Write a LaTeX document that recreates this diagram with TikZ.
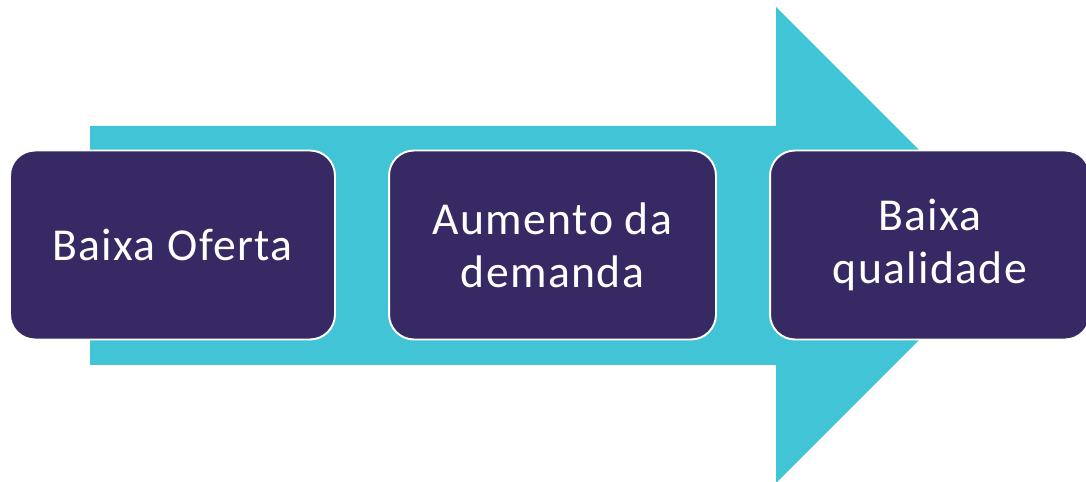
\documentclass[tikz,border=0pt]{standalone}
\usepackage{fontspec}
\setmainfont{Carlito}[LetterSpace=3]
\definecolor{teal}{HTML}{42C4D7}
\definecolor{plum}{HTML}{372963}
\begin{document}
\begin{tikzpicture}[x=0.02cm,y=-0.02cm,
  stepbox/.style={draw=white, line width=1.1pt, fill=plum, rounded corners=0.5cm,
    minimum height=3.78cm, text=white, align=center, inner sep=0pt,
    font=\fontsize{26}{30}\selectfont}]
\useasboundingbox (0,0) rectangle (1086,482);
\clip (0,0) rectangle (1086,482);
\fill[teal] (90,126) -- (776,126) -- (776,7) -- (1014,245) -- (776,483) -- (776,365) -- (90,365) -- cycle;
\node[stepbox, minimum width=6.5cm] (b1) at (172.5,245) {Baixa Oferta};
\node[stepbox, minimum width=6.54cm] (b2) at (552.5,245) {Aumento da\\demanda};
\node[stepbox, minimum width=6.4cm] (b3) at (930,245) {Baixa\\qualidade};
\end{tikzpicture}
\end{document}
